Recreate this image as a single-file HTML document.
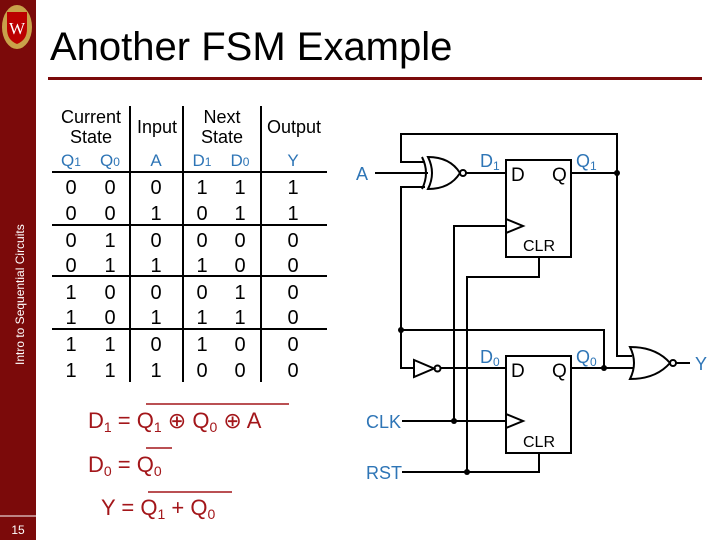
<!DOCTYPE html>
<html><head><style>
html,body{margin:0;padding:0;background:#fff;}
svg{display:block;font-family:"Liberation Sans","DejaVu Sans",sans-serif;}
</style></head><body>
<svg width="720" height="540" viewBox="0 0 720 540">
<rect x="0" y="0" width="36" height="540" fill="#7b0a0a"/>
<line x1="0" y1="516" x2="36" y2="516" stroke="#fff" stroke-width="1"/>
<text x="18" y="534" font-size="12" fill="#fff" text-anchor="middle">15</text>
<text transform="translate(24,365) rotate(-90)" font-size="12" fill="#fff">Intro to Sequential Circuits</text>
<!-- logo -->
<ellipse cx="17" cy="27" rx="15" ry="22" fill="#c9a24a"/>
<path d="M7 12 h20 v17 q0 11 -10 15 q-10 -4 -10 -15z" fill="#b00"/>
<text x="17" y="34" font-size="17" fill="#fff" text-anchor="middle" font-family="Liberation Serif,serif">W</text>
<text x="50" y="60" font-size="40" fill="#000">Another FSM Example</text>
<rect x="48" y="77" width="654" height="3" fill="#7b0a0a"/>

<!-- table -->
<g stroke="#000" stroke-width="2">
<line x1="130" y1="106" x2="130" y2="382"/><line x1="183" y1="106" x2="183" y2="382"/><line x1="261" y1="106" x2="261" y2="382"/>
<line x1="52" y1="172" x2="327" y2="172"/><line x1="52" y1="225" x2="327" y2="225"/><line x1="52" y1="276" x2="327" y2="276"/><line x1="52" y1="329" x2="327" y2="329"/>
</g>
<g font-size="18" text-anchor="middle" fill="#000">
<text x="91" y="123">Current</text><text x="91" y="143">State</text>
<text x="157" y="133">Input</text>
<text x="222" y="123">Next</text><text x="222" y="143">State</text>
<text x="294" y="133">Output</text>
</g>
<g font-size="17" text-anchor="middle" fill="#2e75b6">
<text x="71" y="166">Q<tspan font-size="12">1</tspan></text>
<text x="110" y="166">Q<tspan font-size="12">0</tspan></text>
<text x="156" y="166">A</text>
<text x="202" y="166">D<tspan font-size="12">1</tspan></text>
<text x="240" y="166">D<tspan font-size="12">0</tspan></text>
<text x="293" y="166">Y</text>
</g>
<g font-size="20" text-anchor="middle" fill="#000">
<text y="194"><tspan x="71">0</tspan><tspan x="110">0</tspan><tspan x="156">0</tspan><tspan x="202">1</tspan><tspan x="240">1</tspan><tspan x="293">1</tspan></text>
<text y="220"><tspan x="71">0</tspan><tspan x="110">0</tspan><tspan x="156">1</tspan><tspan x="202">0</tspan><tspan x="240">1</tspan><tspan x="293">1</tspan></text>
<text y="247"><tspan x="71">0</tspan><tspan x="110">1</tspan><tspan x="156">0</tspan><tspan x="202">0</tspan><tspan x="240">0</tspan><tspan x="293">0</tspan></text>
<text y="272"><tspan x="71">0</tspan><tspan x="110">1</tspan><tspan x="156">1</tspan><tspan x="202">1</tspan><tspan x="240">0</tspan><tspan x="293">0</tspan></text>
<text y="299"><tspan x="71">1</tspan><tspan x="110">0</tspan><tspan x="156">0</tspan><tspan x="202">0</tspan><tspan x="240">1</tspan><tspan x="293">0</tspan></text>
<text y="324"><tspan x="71">1</tspan><tspan x="110">0</tspan><tspan x="156">1</tspan><tspan x="202">1</tspan><tspan x="240">1</tspan><tspan x="293">0</tspan></text>
<text y="351"><tspan x="71">1</tspan><tspan x="110">1</tspan><tspan x="156">0</tspan><tspan x="202">1</tspan><tspan x="240">0</tspan><tspan x="293">0</tspan></text>
<text y="377"><tspan x="71">1</tspan><tspan x="110">1</tspan><tspan x="156">1</tspan><tspan x="202">0</tspan><tspan x="240">0</tspan><tspan x="293">0</tspan></text>
</g>

<!-- equations -->
<g font-size="22" fill="#a3161a">
<text x="88" y="428">D<tspan font-size="14" dy="4">1</tspan><tspan dy="-4"> = Q</tspan><tspan font-size="14" dy="4">1</tspan><tspan dy="-4"> ⊕ Q</tspan><tspan font-size="14" dy="4">0</tspan><tspan dy="-4"> ⊕ A</tspan></text>
<text x="88" y="472">D<tspan font-size="14" dy="4">0</tspan><tspan dy="-4"> = Q</tspan><tspan font-size="14" dy="4">0</tspan></text>
<text x="101" y="515">Y = Q<tspan font-size="14" dy="4">1</tspan><tspan dy="-4"> + Q</tspan><tspan font-size="14" dy="4">0</tspan></text>
</g>
<g stroke="#a3161a" stroke-width="1.5">
<line x1="146" y1="404" x2="289" y2="404"/>
<line x1="146" y1="448" x2="172" y2="448"/>
<line x1="148" y1="492" x2="232" y2="492"/>
</g>

<!-- circuit -->
<g stroke="#000" stroke-width="2" fill="none">
<polyline points="425,162 401,162 401,134 617,134 617,356 632,356"/>
<polyline points="425,187 401,187 401,368 414,368"/>
<polyline points="401,330 604,330 604,368"/>
<line x1="375" y1="173" x2="428" y2="173"/>
<line x1="466" y1="173" x2="506" y2="173"/>
<rect x="506" y="160" width="65" height="97"/>
<rect x="506" y="356" width="65" height="97"/>
<polyline points="506,219 523,226 506,233"/>
<polyline points="506,414 523,421 506,428"/>
<line x1="571" y1="173" x2="617" y2="173"/>
<polyline points="506,226 454,226 454,421"/>
<line x1="402" y1="421" x2="506" y2="421"/>
<polyline points="539,257 539,277 467,277 467,472"/>
<polyline points="402,472 539,472 539,453"/>
<line x1="441" y1="368" x2="506" y2="368"/>
<line x1="571" y1="368" x2="634" y2="368"/>
<line x1="676" y1="363" x2="690" y2="363"/>
<path d="M422 157 q8 16 0 32"/>
<path d="M428 157 q8 16 0 32 q22 0 32 -16 q-10 -16 -32 -16z"/>
<circle cx="463" cy="173" r="3"/>
<path d="M414 360 L414 377 L434 368.5 Z"/>
<circle cx="437.5" cy="368.5" r="3"/>
<path d="M630 347 q8 16 0 32 q26 0 40 -16 q-14 -16 -40 -16z"/>
<circle cx="673" cy="363" r="3"/>
</g>
<g fill="#000">
<circle cx="617" cy="173" r="3"/><circle cx="401" cy="330" r="3"/><circle cx="604" cy="368" r="3"/>
<circle cx="454" cy="421" r="3"/><circle cx="467" cy="472" r="3"/>
</g>
<g font-size="19" fill="#000">
<text x="511" y="181">D</text><text x="552" y="181">Q</text>
<text x="511" y="377">D</text><text x="552" y="377">Q</text>
</g>
<g font-size="16" fill="#000" text-anchor="middle">
<text x="539" y="251">CLR</text><text x="539" y="447">CLR</text>
</g>
<g font-size="18" fill="#2e75b6">
<text x="356" y="180">A</text>
<text x="480" y="167">D<tspan font-size="12" dy="3">1</tspan></text>
<text x="576" y="167">Q<tspan font-size="12" dy="3">1</tspan></text>
<text x="480" y="363">D<tspan font-size="12" dy="3">0</tspan></text>
<text x="576" y="363">Q<tspan font-size="12" dy="3">0</tspan></text>
<text x="695" y="370">Y</text>
<text x="366" y="428">CLK</text>
<text x="366" y="479">RST</text>
</g>
</svg>
</body></html>
